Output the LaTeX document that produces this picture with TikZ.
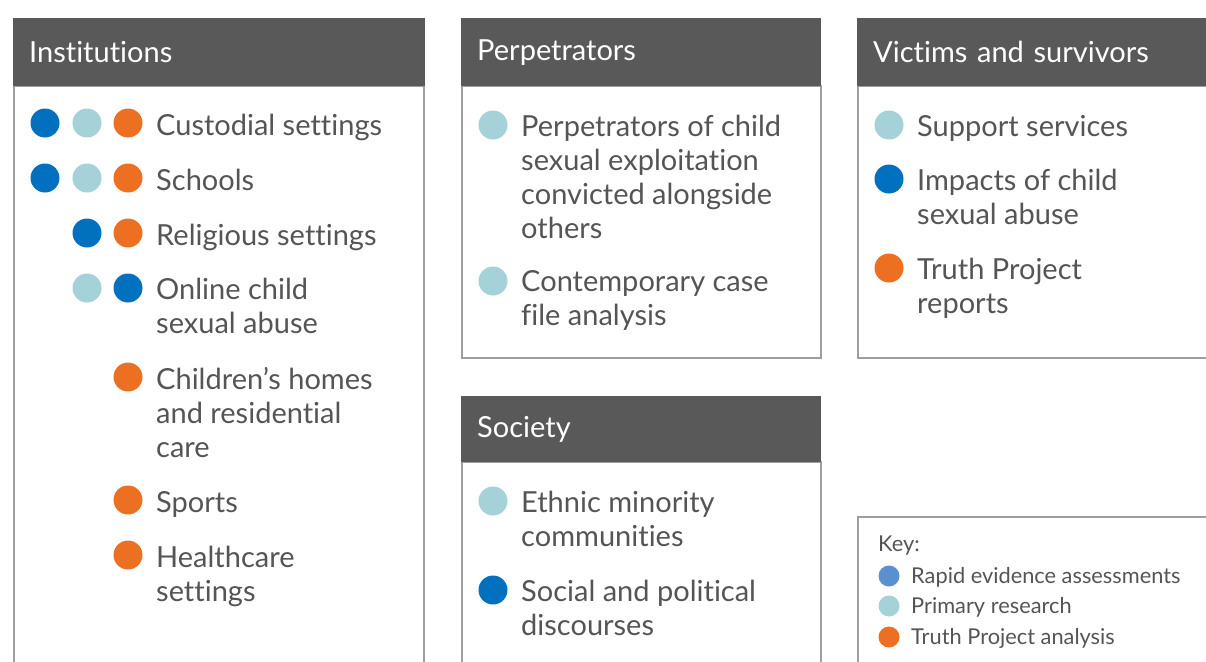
\documentclass[tikz,border=0pt]{standalone}
\usepackage{fontspec}
\setmainfont{Lato}[Ligatures={NoCommon}]
\definecolor{hdrgray}{HTML}{595959}
\definecolor{bordergray}{HTML}{9E9E9E}
\definecolor{txtgray}{HTML}{555555}
\definecolor{dblue}{HTML}{0070BF}
\definecolor{lblue}{HTML}{A5D1D8}
\definecolor{orng}{HTML}{ED7022}
\definecolor{kblue}{HTML}{5B90D0}
\tikzset{
  hdr/.style={fill=hdrgray, text=white, anchor=north west, inner xsep=16pt, inner ysep=0pt,
    minimum height=68pt, align=left, font=\fontsize{29}{34}\selectfont},
  body/.style={draw=bordergray, line width=2pt},
  dot/.style={circle, inner sep=0pt, minimum size=29pt},
  item/.style={anchor=base west, inner sep=0pt, align=left, text=txtgray, font=\fontsize{29}{34}\selectfont},
  kdot/.style={circle, inner sep=0pt, minimum size=21pt},
  kitem/.style={anchor=base west, inner sep=0pt, text=txtgray, font=\fontsize{21.8}{25}\selectfont},
}
\begin{document}
\begin{tikzpicture}[x=1pt,y=-1pt]
\useasboundingbox (0,0) rectangle (1206,661);
\clip (0,0) rectangle (1206,661);
\fill[white] (0,0) rectangle (1206,661);
% box bodies
\draw[body] (14,86) rectangle (424,680);
\draw[body] (462,86) rectangle (821,358);
\draw[body] (858,86) rectangle (1230,358);
\draw[body] (462,462) rectangle (821,680);
\draw[body] (858,517) rectangle (1230,680);
% headers
\node[hdr, text width=380pt] (insthdr) at (13,18) {Institutions};
\node[hdr, text width=328pt] (perphdr) at (461,18) {Perpetrators};
\node[hdr, text width=360pt] (victhdr) at (857,18) {Victims and survivors};
\node[hdr, text width=328pt, minimum height=66pt] (sochdr) at (461,396) {Society};
% Institutions
\node[dot, fill=dblue] (i1a) at (45,123) {};
\node[dot, fill=lblue] (i1b) at (87,123) {};
\node[dot, fill=orng] (i1c) at (128,123) {};
\node[item] (i1) at (156,135) {Custodial settings};
\node[dot, fill=dblue] (i2a) at (45,178) {};
\node[dot, fill=lblue] (i2b) at (87,178) {};
\node[dot, fill=orng] (i2c) at (128,178) {};
\node[item] (i2) at (156,190) {Schools};
\node[dot, fill=dblue] (i3a) at (87,233) {};
\node[dot, fill=orng] (i3b) at (128,233) {};
\node[item] (i3) at (156,245) {Religious settings};
\node[dot, fill=lblue] (i4a) at (87,288) {};
\node[dot, fill=dblue] (i4b) at (128,288) {};
\node[item] (i4) at (156,333) {Online child\\sexual abuse};
\node[dot, fill=orng] (i5a) at (128,377) {};
\node[item] (i5) at (156,457) {Children’s homes\\and residential\\care};
\node[dot, fill=orng] (i6a) at (128,500) {};
\node[item] (i6) at (156,512) {Sports};
\node[dot, fill=orng] (i7a) at (128,555) {};
\node[item] (i7) at (156,601) {Healthcare\\settings};
% Perpetrators
\node[dot, fill=lblue] (p1a) at (493,125) {};
\node[item] (p1) at (521,238) {Perpetrators of child\\sexual exploitation\\convicted alongside\\others};
\node[dot, fill=lblue] (p2a) at (493,281) {};
\node[item] (p2) at (521,325) {Contemporary case\\file analysis};
% Victims
\node[dot, fill=lblue] (v1a) at (889,125) {};
\node[item] (v1) at (917,136) {Support services};
\node[dot, fill=dblue] (v2a) at (889,179) {};
\node[item] (v2) at (917,224) {Impacts of child\\sexual abuse};
\node[dot, fill=orng] (v3a) at (889,268) {};
\node[item] (v3) at (917,313) {Truth Project\\reports};
% Society
\node[dot, fill=lblue] (s1a) at (493,501) {};
\node[item] (s1) at (521,546) {Ethnic minority\\communities};
\node[dot, fill=dblue] (s2a) at (493,590) {};
\node[item] (s2) at (521,635) {Social and political\\discourses};
% Key
\node[kitem] (keyt) at (878,551) {Key:};
\node[kdot, fill=kblue] (k1d) at (889,576) {};
\node[kitem] (k1) at (911,583) {Rapid evidence assessments};
\node[kdot, fill=lblue] (k2d) at (889,606) {};
\node[kitem] (k2) at (911,613) {Primary research};
\node[kdot, fill=orng] (k3d) at (889,637) {};
\node[kitem] (k3) at (911,644) {Truth Project analysis};
\end{tikzpicture}
\end{document}
